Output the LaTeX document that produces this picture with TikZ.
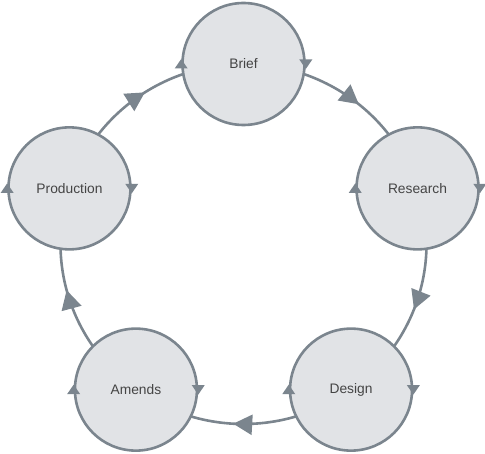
\documentclass[tikz,border=0pt]{standalone}
\usepackage{fontspec}
\setmainfont{Liberation Sans}
\usetikzlibrary{arrows.meta,decorations.markings,calc}
\definecolor{edge}{HTML}{7B858E}
\definecolor{disc}{HTML}{E1E3E6}
\definecolor{txt}{HTML}{444444}
\pgfdeclarelayer{bg}
\pgfsetlayers{bg,main}
\begin{document}
\begin{tikzpicture}[x=1pt,y=1pt,
  stage/.style={circle,draw=edge,fill=disc,line width=2.6pt,minimum size=122pt,inner sep=0pt,
    font=\fontsize{13.8}{16}\selectfont,text=txt},
  flow/.style={draw=edge,line width=2.6pt,
    postaction={decorate,decoration={markings,mark=at position 0.545 with {\arrow[edge]{Triangle[length=19pt,width=20pt]}}}}},
  tipfill/.style={fill=edge}]
\useasboundingbox (0,0) rectangle (485,453);
\def\RX{183}
\def\RY{180}
\coordinate (O) at (243.5,209);
\node[stage] (brief)      at ($(O)+(90:\RX pt and \RY pt)$)   {Brief};
\node[stage] (research)   at ($(O)+(18:\RX pt and \RY pt)$)   {Research};
\node[stage] (design)     at ($(O)+(-54:\RX pt and \RY pt)$)  {Design};
\node[stage] (amends)     at ($(O)+(-126:\RX pt and \RY pt)$) {Amends};
\node[stage] (production) at ($(O)+(162:\RX pt and \RY pt)$)  {Production};
\begin{pgfonlayer}{bg}
\draw[flow] (brief.center) arc[start angle=90,end angle=18,x radius=\RX,y radius=\RY];
\draw[flow] (research.center) arc[start angle=18,end angle=-54,x radius=\RX,y radius=\RY];
\draw[flow] (design.center) arc[start angle=-54,end angle=-126,x radius=\RX,y radius=\RY];
\draw[flow] (amends.center) arc[start angle=-126,end angle=-198,x radius=\RX,y radius=\RY];
\draw[flow] (production.center) arc[start angle=162,end angle=90,x radius=\RX,y radius=\RY];
\end{pgfonlayer}
\foreach \n in {brief,research,design,amends,production}{
  \fill[tipfill] ($(\n.west)+(0,5)$) -- ($(\n.west)+(-6.5,-4.5)$) -- ($(\n.west)+(6.5,-4.5)$) -- cycle;
  \fill[tipfill] ($(\n.east)+(0,-5)$) -- ($(\n.east)+(-6.5,4.5)$) -- ($(\n.east)+(6.5,4.5)$) -- cycle;
}
\end{tikzpicture}
\end{document}
